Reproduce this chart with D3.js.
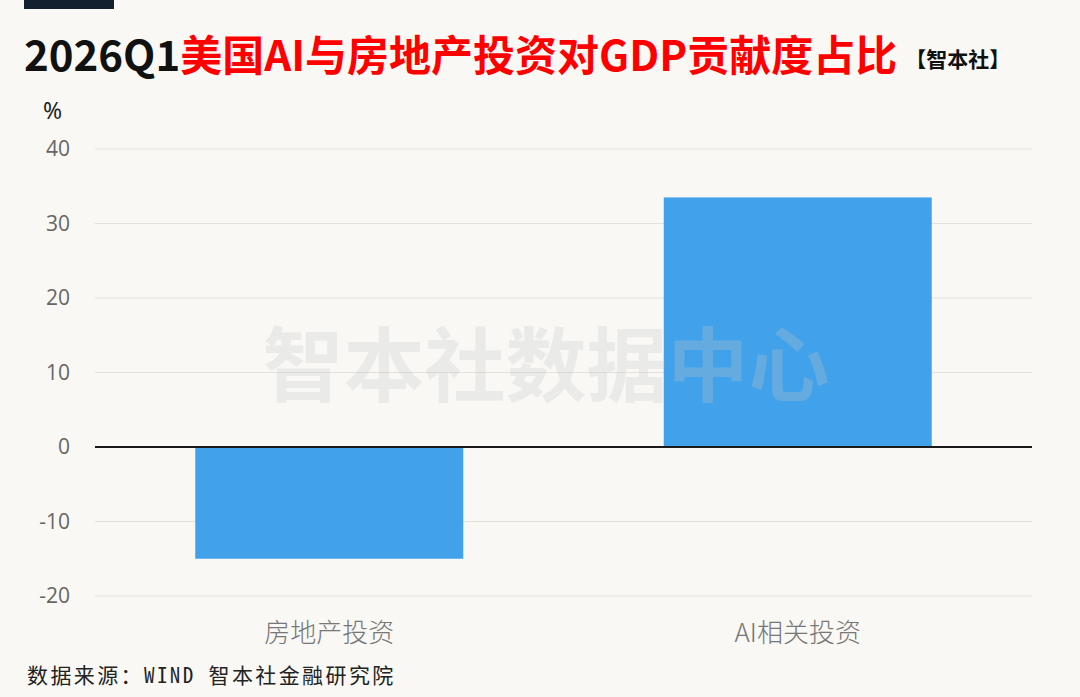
<!DOCTYPE html>
<html><head><meta charset="utf-8">
<script src="https://cdn.jsdelivr.net/npm/d3@7"></script>
<style>
html,body{margin:0;padding:0;background:#f9f8f5;}
svg{display:block;}
</style></head>
<body>
<svg id="chart" width="1080" height="697"></svg>
<script>
const categories = ["房地产投资", "AI相关投资"];
const values = [-15, 33.5];
const yTicks = [-20, -10, 0, 10, 20, 30, 40];
const titleBlack = "2026Q1";
const titleRed = "美国AI与房地产投资对GDP贡献度占比";
const titleTag = "【智本社】";
const unitLabel = "%";
const sourceText = "数据来源：WIND 智本社金融研究院";
const watermark = "智本社数据中心";

const svg = d3.select("#chart");
const W = 1080, H = 697;
svg.append("rect").attr("width", W).attr("height", H).attr("fill", "#f9f8f5");

const cjk = "'Noto Sans CJK SC','Noto Sans',sans-serif";

// top dark bar
svg.append("rect").attr("x", 24).attr("y", 0).attr("width", 90).attr("height", 9).attr("fill", "#13202f");

// title
const t = svg.append("text").attr("x", 24).attr("y", 71).attr("font-family", cjk).attr("font-weight", 700).attr("font-size", 42);
t.append("tspan").attr("fill", "#111").text(titleBlack);
t.append("tspan").attr("fill", "#ff0000").text(titleRed);
t.append("tspan").attr("fill", "#111").attr("font-size", 21).attr("dx", 8).attr("dy", -4).text(titleTag);

const y = d3.scaleLinear().domain([-20, 40]).range([596, 149]);
const x = d3.scaleBand().domain(categories).range([95, 1032]).paddingInner(0.428).paddingOuter(0.214);

const gridX0 = 95, gridX1 = 1032;

// gridlines
svg.append("g").selectAll("line").data(yTicks.filter(d => d !== 0)).join("line")
  .attr("x1", gridX0).attr("x2", gridX1)
  .attr("y1", d => y(d)).attr("y2", d => y(d))
  .attr("stroke", "#e4e1dd").attr("stroke-width", 1);

// y axis labels
const yAxis = d3.axisLeft(y).tickValues(yTicks).tickSize(0).tickPadding(0).tickFormat(d => String(d));
const ya = svg.append("g").attr("transform", "translate(70,0)").call(yAxis);
ya.select(".domain").remove();
ya.selectAll("text").attr("font-family", "'Open Sans','Noto Sans',sans-serif").attr("font-size", 21).attr("fill", "#666");

svg.append("text").attr("x", 43).attr("y", 119).attr("font-family", "'Noto Sans',sans-serif")
  .attr("font-size", 23).attr("fill", "#222").text(unitLabel);

// bars
svg.append("g").selectAll("rect").data(values).join("rect")
  .attr("x", (d, i) => x(categories[i]))
  .attr("width", x.bandwidth())
  .attr("y", d => y(Math.max(0, d)))
  .attr("height", d => Math.abs(y(d) - y(0)))
  .attr("fill", "#41a1ea");

// zero line
svg.append("line").attr("x1", gridX0).attr("x2", gridX1).attr("y1", y(0)).attr("y2", y(0))
  .attr("stroke", "#1a1a1a").attr("stroke-width", 2);

// watermark (on top)
svg.append("text").attr("x", 546).attr("y", 395).attr("text-anchor", "middle")
  .attr("font-family", cjk).attr("font-weight", 700).attr("font-size", 81)
  .attr("fill", "#c4c4c4").attr("fill-opacity", 0.28).text(watermark);

// x axis labels
const xAxis = d3.axisBottom(x).tickSize(0).tickPadding(0);
const xa = svg.append("g").attr("transform", "translate(0,642)").call(xAxis);
xa.select(".domain").remove();
xa.selectAll("text").attr("dy", 0).attr("font-family", cjk).attr("font-weight", 300).attr("font-size", 26).attr("fill", "#777");

// source
svg.append("text").attr("x", 27).attr("y", 683)
  .attr("font-family", "'Noto Sans Mono CJK SC','Noto Sans CJK SC',monospace")
  .attr("font-size", 21).attr("letter-spacing", 2.4).attr("fill", "#222").text(sourceText);
</script>
</body></html>
